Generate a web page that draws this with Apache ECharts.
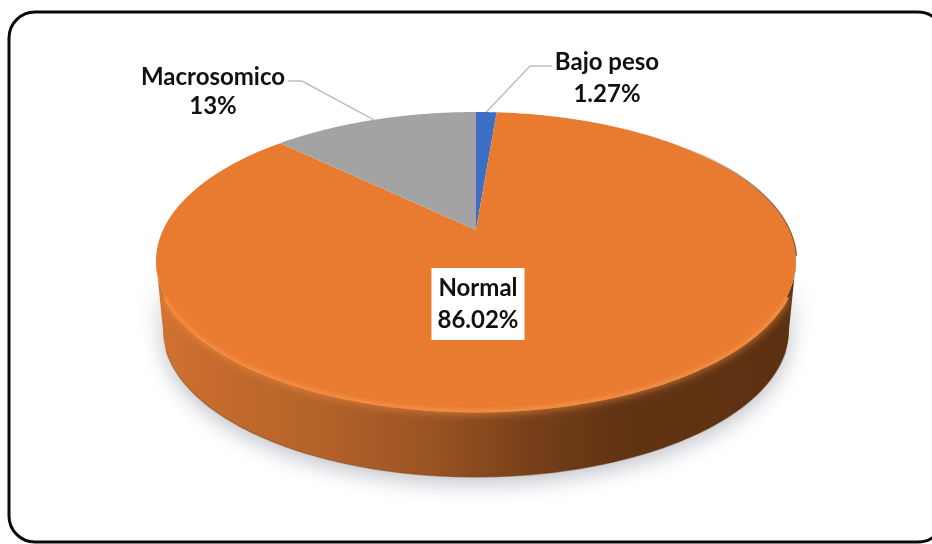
<!DOCTYPE html>
<html><head><meta charset="utf-8">
<style>html,body{margin:0;padding:0;background:#fff}#c{width:932px;height:544px}</style>
<script src="https://cdn.jsdelivr.net/npm/echarts@6/dist/echarts.min.js"></script>
</head><body><div id="c"></div>
<script>
const categories = ['Bajo peso', 'Normal', 'Macrosomico'];
const values = [1.27, 86.02, 12.71];
const valueLabels = ['1.27%', '86.02%', '13%'];
const colors = ['#3b6fc4', '#e97b30', '#a3a3a3'];

const labelStyle = [
  { x: 607, y: 78, lineHeight: 32, leader: [[530, 66], [552, 66]] },
  { x: 478, y: 304, lineHeight: 32, box: true },
  { x: 213, y: 92, lineHeight: 29, leader: [[302, 81], [288, 81]] }
];

// Tilted-disc projection: the pie centre sits above the middle of the ellipse.
const tilt = 0.208;
const squeeze = Math.sqrt(1 - tilt * tilt);
function rim(theta) {
  const u = Math.sin(theta), v = Math.cos(theta), w = 1 + tilt * v;
  return [squeeze * u / w, (v + tilt) / w];
}
const total = values.reduce((a, b) => a + b, 0);
const rows = [];
let acc = 0;
values.forEach((v, i) => { rows.push([acc, v, i]); acc += v; });
const toAngle = p => p / total * Math.PI * 2;

function arc(api, a0, a1, n) {
  const pts = [];
  for (let i = 0; i <= n; i++) pts.push(api.coord(rim(a0 + (a1 - a0) * i / n)));
  return pts;
}
function frontEdge(api) {
  const pts = [];
  for (let i = 0; i <= 180; i++) {
    const t = Math.PI * i / 180;
    pts.push(api.coord([Math.cos(t), -Math.sin(t)]));
  }
  return pts;
}
function renderWall(params, api) {
  const top = frontEdge(api);
  const low = [];
  for (let i = 180; i >= 0; i--) {
    const t = Math.PI * i / 180;
    low.push(api.coord([0.978 * Math.cos(t), -0.463 - 0.987 * Math.sin(t)]));
  }
  const upperRight = [];
  for (let i = 50; i >= 2; i--) {
    const t = Math.PI * i / 180;
    upperRight.push(api.coord([Math.cos(t), Math.sin(t)]));
  }
  return {
    type: 'group',
    children: [{
      type: 'polygon',
      shape: { points: top.concat(low) },
      style: {
        fill: new echarts.graphic.LinearGradient(0, 0, 1, 0, [
          { offset: 0, color: '#d27230' },
          { offset: 0.1, color: '#c46a2c' },
          { offset: 0.25, color: '#b5632a' },
          { offset: 0.42, color: '#9c5423' },
          { offset: 0.6, color: '#743e18' },
          { offset: 0.72, color: '#623413' },
          { offset: 1, color: '#5b3011' }
        ]),
        shadowBlur: 22, shadowColor: 'rgba(60,70,90,0.34)', shadowOffsetY: 6
      }
    }, {
      type: 'polyline',
      shape: { points: low.slice(8, 173) },
      style: { fill: 'none', stroke: 'rgba(110,58,20,0.45)', lineWidth: 1.2 }
    }, {
      type: 'polyline',
      shape: { points: upperRight },
      style: {
        fill: 'none', lineWidth: 2.5,
        stroke: new echarts.graphic.LinearGradient(0, 0, 1, 0, [
          { offset: 0, color: 'rgba(105,58,22,0)' },
          { offset: 0.5, color: 'rgba(105,58,22,0.6)' },
          { offset: 1, color: 'rgba(105,58,22,0.85)' }
        ])
      }
    }, {
      type: 'polyline',
      shape: { points: top.slice(14, 167) },
      style: { fill: 'none', stroke: '#ef8a42', lineWidth: 5, shadowBlur: 9, shadowColor: 'rgba(239,138,66,0.9)' }
    }]
  };
}
function renderSlice(params, api) {
  const a0 = toAngle(api.value(0)), a1 = a0 + toAngle(api.value(1)), i = api.value(2);
  const apex = api.coord([0, tilt]);
  const children = [{
    type: 'polygon',
    shape: { points: [apex].concat(arc(api, a0, a1, 240)) },
    style: { fill: colors[i] }
  }];
  if (categories[i] === 'Normal') {
    children.push({
      type: 'polyline',
      shape: { points: frontEdge(api).slice(14, 167) },
      style: { fill: 'none', stroke: 'rgba(242,140,66,0.4)', lineWidth: 5, shadowBlur: 8, shadowColor: 'rgba(242,140,66,0.5)' }
    });
  }
  const l = labelStyle[i];
  if (l.leader) {
    const start = api.coord(rim((a0 + a1) / 2));
    children.push({
      type: 'polyline',
      shape: { points: [start].concat(l.leader) },
      style: { fill: 'none', stroke: '#bfbfbf', lineWidth: 1.5 }
    });
  }
  children.push({
    type: 'text',
    style: Object.assign({
      x: l.x, y: l.y,
      text: categories[i] + '\n' + valueLabels[i],
      fill: '#111',
      font: 'bold 24px Lato, "Open Sans", sans-serif',
      lineHeight: l.lineHeight,
      align: 'center', verticalAlign: 'middle'
    }, l.box ? { backgroundColor: '#fff', padding: [4, 6, 4, 6] } : {})
  });
  return { type: 'group', children };
}

const chart = echarts.init(document.getElementById('c'), null, { renderer: 'canvas' });
chart.setOption({
  animation: false,
  backgroundColor: '#fff',
  graphic: [{
    type: 'rect', z: -10,
    shape: { x: 9, y: 12, width: 935, height: 530, r: 26 },
    style: { fill: '#fff', stroke: '#0a0a0a', lineWidth: 3 }
  }],
  grid: { left: 156, width: 640, top: 112, height: 372.5 },
  xAxis: { type: 'value', min: -1, max: 1, show: false },
  yAxis: { type: 'value', min: -1.5, max: 1, show: false },
  series: [
    { type: 'custom', coordinateSystem: 'cartesian2d', renderItem: renderWall, data: [[0, 0]], silent: true, z: 2 },
    { type: 'custom', coordinateSystem: 'cartesian2d', renderItem: renderSlice, data: rows, silent: true, z: 3,
      encode: { x: 0, y: 1 } }
  ]
});
</script></body></html>
